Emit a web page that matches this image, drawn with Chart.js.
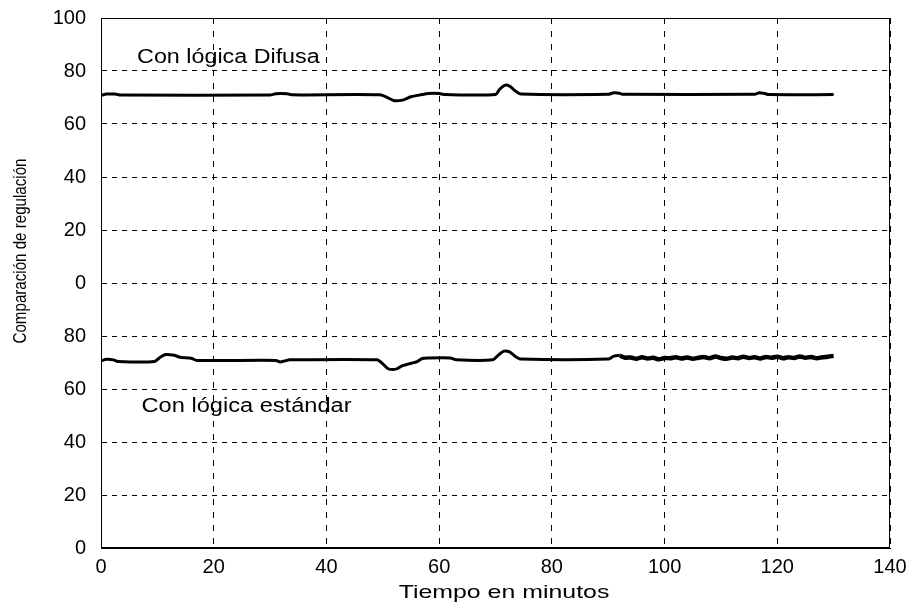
<!DOCTYPE html>
<html>
<head>
<meta charset="utf-8">
<title>Comparación de regulación</title>
<script src="https://cdn.jsdelivr.net/npm/chart.js@4.4.1/dist/chart.umd.min.js"></script>
<style>
    html, body { margin: 0; padding: 0; background: #fff; }
    #wrap { width: 914px; height: 604px; }
</style>
</head>
<body>
<div id="wrap"><canvas id="grafico" width="914" height="604"></canvas></div>
<script>
// Datos (tiempo en minutos, valor de regulacion)
const tiempoDifusa = [0, 1, 2.5, 3.5, 30, 31, 33, 34, 49.5, 51, 52, 53.5, 55, 57, 58, 60, 61, 70, 70.7, 71.6, 72.5, 73.5, 74.5, 90, 91, 92, 92.5, 116, 116.8, 117.8, 118.5, 130];
const valoresDifusa = [70.8, 71.3, 71.3, 70.9, 70.9, 71.4, 71.4, 71.0, 71.0, 69.8, 68.8, 69.0, 70.3, 71.1, 71.5, 71.5, 71.1, 71.1, 73.0, 74.6, 74.3, 72.5, 71.3, 71.2, 71.8, 71.6, 71.2, 71.2, 71.8, 71.5, 71.1, 71.1];

const tiempoEstandar = [0, 1, 2.2, 3, 9.5, 10.5, 11.5, 13, 14, 16, 17, 31, 31.8, 32.6, 33.5, 49, 50, 51, 52.5, 53.5, 55, 56, 57, 58, 62, 63, 69.5, 70.5, 71.5, 72.5, 73.5, 74.5, 90, 91, 92, 93,
    94, 95, 96, 97, 98, 99, 100, 101, 102, 103, 104, 105, 106, 107, 108, 109, 110, 111, 112, 113, 114, 115, 116, 117, 118, 119, 120, 121, 122, 123, 124, 125, 126, 127, 128, 129, 130];
const valoresEstandar = [70.6, 71.2, 71.0, 70.4, 70.4, 72.0, 73.0, 72.7, 72.0, 71.6, 70.8, 70.8, 70.2, 70.6, 71.0, 71.0, 69.5, 67.6, 67.6, 68.8, 69.7, 70.2, 71.5, 71.7, 71.7, 71.0, 71.0, 72.8, 74.3, 74.0, 72.3, 71.3, 71.3, 72.4, 72.6, 71.8,
    71.9, 71.4, 72.0, 71.5, 71.8, 71.2, 71.7, 71.6, 72.0, 71.5, 71.9, 71.4, 71.8, 72.1, 71.6, 72.3, 71.7, 71.4, 71.9, 71.6, 72.2, 71.7, 72.0, 71.5, 72.1, 71.8, 72.2, 71.6, 72.0, 71.7, 72.3, 71.8, 72.1, 71.6, 72.0, 72.2, 72.5];

// La curva difusa se dibuja en el panel superior (desplazada 100 unidades)
const DESPLAZAMIENTO = 100;

// Etiquetas del eje Y: dos paneles apilados de 0 a 100
const etiquetasY = ['0', '20', '40', '60', '80', '0', '20', '40', '60', '80', '100'];
const ticksX = [0, 20, 40, 60, 80, 100, 120, 140];

const FUENTE = "'Liberation Sans', Arial, Helvetica, sans-serif";

function puntos(tiempos, valores, desplazamiento) {
    return tiempos.map((t, i) => ({ x: t, y: valores[i] + desplazamiento }));
}

// Texto con escala horizontal (el original esta algo estirado)
function textoEstirado(ctx, texto, x, y, tam, escala, alinear) {
    ctx.save();
    ctx.font = tam + 'px ' + FUENTE;
    ctx.fillStyle = '#000';
    ctx.textAlign = alinear || 'left';
    ctx.textBaseline = 'alphabetic';
    ctx.translate(x, y);
    ctx.scale(escala, 1);
    ctx.fillText(texto, 0, 0);
    ctx.restore();
}

const textosPlugin = {
    id: 'textos',
    afterDraw(chart) {
        const { ctx, chartArea, scales } = chart;

        // marco completo
        ctx.save();
        ctx.strokeStyle = '#000';
        ctx.lineWidth = 1;
        const l = Math.round(chartArea.left) + 0.5;
        const t = Math.round(chartArea.top) + 0.5;
        const r = Math.round(chartArea.right) - 0.5;
        const b = Math.round(chartArea.bottom) - 0.5;
        ctx.strokeRect(l, t, r - l, b - t);
        ctx.restore();

        // anotaciones
        textoEstirado(ctx, 'Con lógica Difusa', scales.x.getPixelForValue(6.4), scales.y.getPixelForValue(183), 20, 1.165);
        textoEstirado(ctx, 'Con lógica estándar', scales.x.getPixelForValue(7.2), scales.y.getPixelForValue(51.4), 20, 1.18);

        // titulos de ejes
        textoEstirado(ctx, 'Tiempo en minutos', 504, 598, 19, 1.31, 'center');

        ctx.save();
        ctx.translate(21, 251);
        ctx.rotate(-Math.PI / 2);
        ctx.scale(0.84, 1);
        ctx.font = '18px ' + FUENTE;
        ctx.fillStyle = '#000';
        ctx.textAlign = 'center';
        ctx.textBaseline = 'middle';
        ctx.fillText('Comparación de regulación', 0, 0);
        ctx.restore();
    }
};

const ctx = document.getElementById('grafico').getContext('2d');

new Chart(ctx, {
    type: 'line',
    data: {
        datasets: [
            {
                label: 'Con lógica Difusa',
                data: puntos(tiempoDifusa, valoresDifusa, DESPLAZAMIENTO),
                borderColor: '#000',
                borderWidth: 3,
                pointRadius: 0,
                tension: 0.25,
                fill: false
            },
            {
                label: 'Con lógica estándar',
                data: puntos(tiempoEstandar, valoresEstandar, 0),
                borderColor: '#000',
                borderWidth: 3,
                pointRadius: 0,
                tension: 0.25,
                fill: false,
                segment: {
                    borderWidth: c => c.p0.parsed.x >= 92 ? 4.5 : 3
                }
            }
        ]
    },
    options: {
        responsive: false,
        animation: false,
        events: [],
        layout: { padding: { top: 18, right: 24, left: 0, bottom: 0 } },
        plugins: {
            legend: { display: false },
            tooltip: { enabled: false }
        },
        scales: {
            x: {
                type: 'linear',
                min: 0,
                max: 140,
                afterFit: scale => {
                    scale.height = 56;
                    scale.paddingLeft = 0;
                    scale.paddingRight = 0;
                },
                afterBuildTicks: scale => { scale.ticks = ticksX.map(v => ({ value: v })); },
                grid: { color: '#000', lineWidth: 1, drawTicks: false },
                border: { display: true, color: '#000', dash: [6, 7] },
                ticks: {
                    color: '#000',
                    padding: 7,
                    maxRotation: 0,
                    font: { family: FUENTE, size: 20 }
                }
            },
            y: {
                min: 0,
                max: 200,
                afterFit: scale => {
                    scale.width = 101;
                    scale.paddingTop = 0;
                    scale.paddingBottom = 0;
                },
                grid: { color: '#000', lineWidth: 1, drawTicks: false },
                border: { display: true, color: '#000', dash: [5, 5] },
                ticks: {
                    stepSize: 20,
                    color: '#000',
                    padding: 15,
                    font: { family: FUENTE, size: 20 },
                    callback: v => etiquetasY[Math.round(v / 20)]
                }
            }
        }
    },
    plugins: [textosPlugin]
});
</script>
</body>
</html>
